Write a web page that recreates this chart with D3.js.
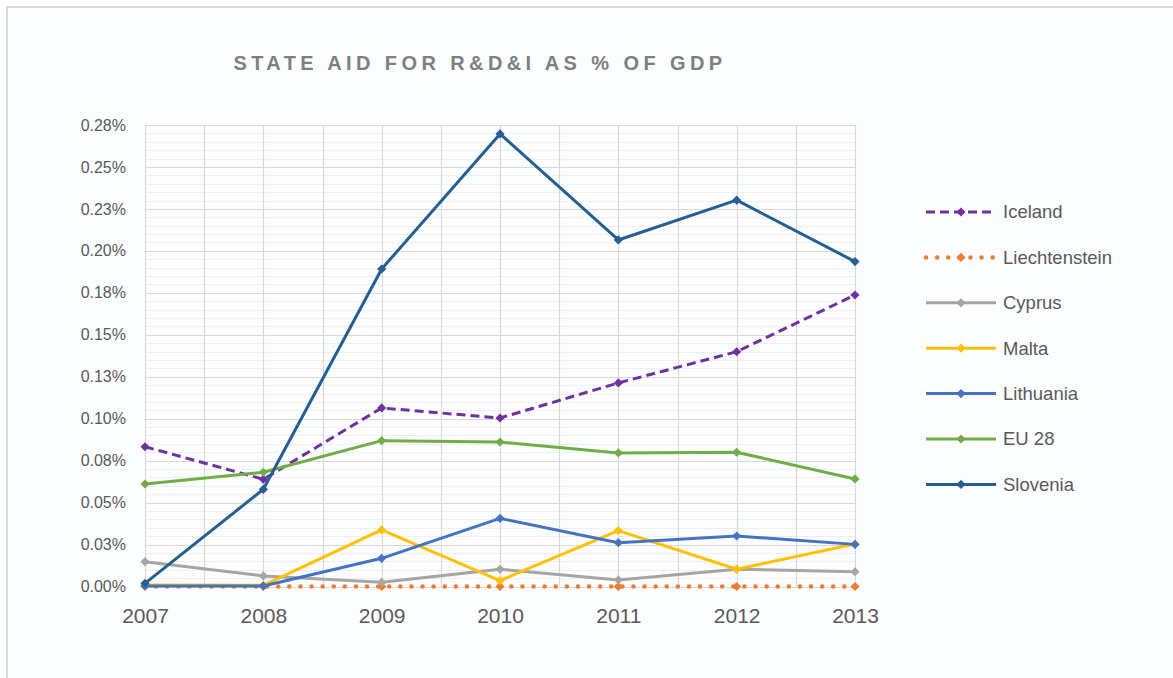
<!DOCTYPE html>
<html>
<head>
<meta charset="utf-8">
<script src="https://cdn.jsdelivr.net/npm/d3@7"></script>
<style>
  body { margin: 0; background: #fff; }
  text { font-family: "Liberation Sans", Arial, sans-serif; }
</style>
</head>
<body>
<svg id="chart" width="1173" height="678"></svg>
<script>
// values are % of GDP
var years = ["2007", "2008", "2009", "2010", "2011", "2012", "2013"];
var iceland       = [0.0833, 0.0639, 0.1064, 0.1004, 0.1213, 0.1399, 0.1737];
var liechtenstein = [0, 0, 0, 0, 0, 0, 0];
var cyprus        = [0.0148, 0.0063, 0.0025, 0.0103, 0.0039, 0.0103, 0.0088];
var malta         = [0.0009, 0.0007, 0.0337, 0.0035, 0.0333, 0.0103, 0.0253];
var lithuania     = [0.0003, 0.0003, 0.0168, 0.0406, 0.0261, 0.0301, 0.0251];
var eu28          = [0.0611, 0.0681, 0.0869, 0.0861, 0.0796, 0.0800, 0.0641];
var slovenia      = [0.0019, 0.0579, 0.1892, 0.2697, 0.2065, 0.2302, 0.1936];
var yTicks  = [0, 0.025, 0.05, 0.075, 0.1, 0.125, 0.15, 0.175, 0.2, 0.225, 0.25, 0.275];
var yLabels = ["0.00%", "0.03%", "0.05%", "0.08%", "0.10%", "0.13%", "0.15%", "0.18%", "0.20%", "0.23%", "0.25%", "0.28%"];

var series = [
  {name: "Iceland", values: iceland, color: "#7030a0", dash: "9,5", width: 3},
  {name: "Liechtenstein", values: liechtenstein, color: "#ed7d31", dash: "0.1,11", width: 4.5, cap: "round"},
  {name: "Cyprus", values: cyprus, color: "#a5a5a5", dash: null, width: 3},
  {name: "Malta", values: malta, color: "#ffc000", dash: null, width: 3},
  {name: "Lithuania", values: lithuania, color: "#4472c4", dash: null, width: 3},
  {name: "EU 28", values: eu28, color: "#70ad47", dash: null, width: 3},
  {name: "Slovenia", values: slovenia, color: "#255e91", dash: null, width: 3}
];

var svg = d3.select("#chart");
var plotLeft = 145, plotRight = 855, plotTop = 125, plotBottom = 586.5;

svg.append("rect").attr("x", 7).attr("y", 7).attr("width", 1180).attr("height", 700)
  .attr("fill", "#fcfdfe").attr("stroke", "#d9d9d9").attr("stroke-width", 2);

var x = d3.scaleLinear().domain([0, years.length - 1]).range([plotLeft, plotRight]);
var y = d3.scaleLinear().domain([0, 0.275]).range([plotBottom, plotTop]);

function py(d) { return Math.round(y(d)) + 0.5; }
function px(d) { return Math.round(x(d)) + 0.5; }

// minor horizontal grid
var minor = d3.range(0, 0.2751, 0.005);
svg.append("g").selectAll("line").data(minor).enter().append("line")
  .attr("x1", plotLeft).attr("x2", plotRight)
  .attr("y1", py).attr("y2", py)
  .attr("stroke", "#efefef").attr("stroke-width", 1);

// major grid, horizontal and vertical (half-year steps)
svg.append("g").selectAll("line").data(yTicks).enter().append("line")
  .attr("x1", plotLeft).attr("x2", plotRight)
  .attr("y1", py).attr("y2", py)
  .attr("stroke", "#d9d9d9").attr("stroke-width", 1.2);

svg.append("g").selectAll("line").data(d3.range(0, years.length - 0.9, 0.5)).enter().append("line")
  .attr("y1", plotTop).attr("y2", plotBottom)
  .attr("x1", px).attr("x2", px)
  .attr("stroke", "#d9d9d9").attr("stroke-width", 1.2);

// y axis labels
var yAxis = d3.axisLeft(y).tickValues(yTicks).tickSize(0).tickPadding(19)
  .tickFormat(function(d, i) { return yLabels[i]; });
var ya = svg.append("g").attr("transform", "translate(" + plotLeft + ",0)").call(yAxis);
ya.select(".domain").remove();
ya.selectAll("text").attr("font-size", 16).attr("fill", "#595959")
  .attr("font-family", "Liberation Sans, Arial, sans-serif");

// x axis labels
var xAxis = d3.axisBottom(x).tickValues(d3.range(years.length)).tickSize(0).tickPadding(22)
  .tickFormat(function(d) { return years[d]; });
var xa = svg.append("g").attr("transform", "translate(0," + plotBottom + ")").call(xAxis);
xa.select(".domain").remove();
xa.selectAll("text").attr("font-size", 21).attr("fill", "#595959")
  .attr("font-family", "Liberation Sans, Arial, sans-serif");

// title
svg.append("text").attr("x", 480).attr("y", 70).attr("text-anchor", "middle")
  .attr("font-size", 20).attr("font-weight", "bold").attr("letter-spacing", 4.4)
  .attr("fill", "#7f7f7f").text("STATE AID FOR R&D&I AS % OF GDP");

// lines and markers
var line = d3.line().x(function(d, i) { return x(i); }).y(function(d) { return y(d); });
var marker = d3.symbol().type(d3.symbolSquare).size(42);

var sg = svg.append("g").selectAll("g").data(series).enter().append("g");
sg.append("path")
  .attr("d", function(d) { return line(d.values); })
  .attr("fill", "none")
  .attr("stroke", function(d) { return d.color; })
  .attr("stroke-width", function(d) { return d.width; })
  .attr("stroke-dasharray", function(d) { return d.dash; })
  .attr("stroke-linecap", function(d) { return d.cap || "butt"; })
  .attr("stroke-linejoin", "round");
sg.each(function(s) {
  d3.select(this).selectAll("path.m").data(s.values).enter().append("path").attr("class", "m")
    .attr("d", marker)
    .attr("transform", function(d, i) { return "translate(" + x(i) + "," + y(d) + ") rotate(45)"; })
    .attr("fill", s.color);
});

// legend
var lg = svg.append("g").selectAll("g").data(series).enter().append("g")
  .attr("transform", function(d, i) { return "translate(926," + (212 + i * 45.4) + ")"; });
lg.append("line").attr("x1", 0).attr("x2", 70)
  .attr("stroke", function(d) { return d.color; })
  .attr("stroke-width", function(d) { return d.width; })
  .attr("stroke-dasharray", function(d) { return d.dash; })
  .attr("stroke-linecap", function(d) { return d.cap || "butt"; });
lg.append("path").attr("d", marker).attr("transform", "translate(35,0) rotate(45)")
  .attr("fill", function(d) { return d.color; });
lg.append("text").attr("x", 77).attr("y", 0).attr("dy", "0.35em")
  .attr("font-size", 18.5).attr("fill", "#595959").text(function(d) { return d.name; });
</script>
</body>
</html>
